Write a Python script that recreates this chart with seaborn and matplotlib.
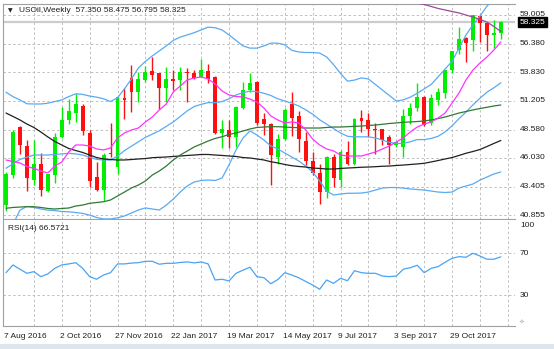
import numpy as np
import pandas as pd
import matplotlib
matplotlib.use("Agg")
import matplotlib.pyplot as plt
import matplotlib.transforms as mtransforms
from matplotlib.patches import Rectangle
import seaborn as sns

# ---------------- weekly USOil candles ----------------
first_week = "2016-08-07"

opens = [41.80, 44.50, 48.80, 47.10, 44.00, 45.45, 43.00, 44.50, 47.90, 49.50,
         50.10, 50.75, 48.30, 44.30, 43.10, 46.50, 45.25, 51.50, 53.25, 52.00,
         53.10, 53.90, 53.70, 52.35, 53.20, 53.10, 53.80, 53.70, 53.40, 53.90,
         53.40, 48.30, 48.55, 47.95, 50.60, 52.20, 52.95, 49.60, 49.10, 46.15,
         47.75, 50.90, 49.85, 47.55, 45.75, 44.65, 42.95, 46.15, 44.00, 46.60,
         45.50, 49.70, 49.50, 48.70, 48.65, 47.90, 47.20, 47.05, 49.80, 50.60,
         51.60, 49.20, 51.30, 51.90, 54.00, 55.85, 56.90, 56.75, 58.90, 58.25,
         57.20, 57.35]
highs = [44.80, 48.60, 48.90, 47.70, 47.70, 46.45, 44.60, 48.30, 50.70, 51.40,
         51.90, 50.90, 48.60, 45.70, 46.45, 49.20, 51.65, 52.35, 54.50, 53.85,
         54.40, 55.20, 53.75, 54.30, 54.00, 54.30, 54.20, 54.00, 55.00, 54.60,
         53.50, 49.50, 49.50, 50.75, 52.95, 53.70, 53.00, 50.10, 49.20, 48.20,
         50.60, 52.00, 50.30, 48.40, 46.60, 45.45, 46.20, 46.40, 46.75, 47.55,
         49.70, 50.40, 50.15, 49.20, 48.70, 48.10, 47.55, 50.45, 51.05, 52.80,
         51.65, 51.80, 52.35, 54.05, 55.75, 57.95, 57.05, 59.05, 59.00, 58.30,
         58.55, 58.475]
lows = [41.20, 44.20, 46.40, 43.00, 43.60, 42.60, 42.90, 43.80, 47.80, 49.10,
        49.30, 48.10, 43.40, 43.00, 42.10, 46.10, 44.60, 49.60, 50.20, 51.10,
        52.90, 53.10, 50.50, 51.10, 52.20, 52.20, 51.10, 53.20, 53.35, 52.80,
        48.20, 46.95, 46.95, 47.05, 50.50, 52.05, 49.00, 48.10, 43.60, 45.45,
        47.65, 48.00, 46.60, 45.40, 44.50, 41.85, 42.40, 43.40, 43.40, 45.40,
        45.40, 48.35, 47.95, 46.35, 47.20, 45.45, 47.05, 46.15, 49.10, 50.30,
        48.95, 49.00, 50.85, 51.45, 53.70, 55.45, 54.75, 55.70, 56.60, 55.75,
        56.05, 56.795]
closes = [44.60, 48.40, 47.20, 44.20, 45.50, 43.10, 44.55, 47.95, 49.50, 50.30,
          50.90, 48.50, 43.90, 43.10, 46.30, 46.40, 51.60, 51.30, 52.00, 53.20,
          53.80, 53.60, 52.35, 53.20, 53.00, 53.80, 53.70, 53.30, 54.00, 53.20,
          48.30, 48.65, 47.95, 50.70, 52.20, 52.85, 49.20, 49.10, 46.30, 47.75,
          50.40, 49.70, 47.75, 45.75, 44.65, 42.95, 46.15, 44.25, 46.60, 45.45,
          49.60, 49.40, 48.70, 48.55, 47.65, 47.20, 47.50, 49.80, 50.55, 51.60,
          49.00, 51.45, 52.00, 54.00, 55.70, 56.80, 56.50, 59.00, 58.25, 57.20,
          57.40, 58.325]

# ---------------- overlays ----------------
ma_fast = [45.85, 45.71, 45.58, 45.26, 45.08, 44.85, 44.67, 45.30, 45.67, 46.57,
           47.21, 47.21, 47.12, 46.85, 46.76, 46.94, 47.85, 48.30, 48.57, 48.75,
           49.30, 49.75, 50.39, 50.93, 52.02, 52.56, 53.11, 53.29, 53.38, 53.20,
           52.75, 52.11, 51.75, 51.61, 51.57, 51.38, 51.11, 50.57, 49.84, 49.48,
           49.21, 49.30, 49.21, 48.57, 47.75, 47.21, 46.85, 46.67, 46.30, 46.21,
           46.21, 46.21, 46.39, 46.57, 46.85, 47.12, 47.48, 47.85, 48.39, 48.84,
           49.11, 49.30, 49.66, 50.11, 51.02, 51.93, 53.11, 54.01, 54.65, 55.19,
           55.83, 56.56]
bb_mid = [45.10, 45.50, 45.90, 46.10, 46.30, 46.30, 46.30, 46.35, 46.40, 46.45,
          46.40, 46.30, 46.10, 45.90, 45.85, 45.85, 46.20, 46.70, 47.10, 47.50,
          47.90, 48.20, 48.50, 48.90, 49.30, 49.80, 50.30, 50.70, 50.90, 51.05,
          51.05, 51.15, 51.40, 51.75, 51.95, 52.10, 52.05, 51.90, 51.70, 51.40,
          51.20, 51.00, 50.75, 50.40, 50.00, 49.50, 49.10, 48.70, 48.30, 48.00,
          47.95, 47.95, 47.95, 47.85, 47.65, 47.45, 47.35, 47.35, 47.50, 47.70,
          47.70, 47.80, 48.00, 48.40, 48.95, 49.60, 50.20, 50.85, 51.45, 52.00,
          52.40, 52.85]
bb_upper = [52.00, 51.60, 51.30, 50.95, 50.93, 50.93, 51.00, 51.15, 51.30, 51.60,
            51.85, 51.80, 51.65, 51.55, 51.40, 51.15, 51.50, 52.30, 53.20, 54.20,
            54.80, 55.30, 55.75, 56.20, 56.70, 57.00, 57.20, 57.40, 57.65, 57.90,
            57.85, 57.65, 57.20, 56.70, 56.20, 56.00, 56.00, 56.20, 56.45, 56.45,
            56.30, 55.80, 55.65, 55.60, 55.60, 55.55, 55.20, 54.50, 53.70, 53.00,
            53.10, 53.30, 53.20, 52.70, 52.20, 51.70, 51.20, 51.30, 51.55, 51.90,
            52.30, 52.70, 53.40, 54.10, 54.80, 56.00, 57.20, 58.10, 58.90, 59.80,
            60.50, 61.20]
bb_lower = [38.50, 40.00, 41.30, 41.63, 41.54, 41.40, 41.30, 41.26, 41.17, 41.15,
            41.08, 41.00, 40.85, 40.63, 40.50, 40.50, 40.60, 40.77, 41.04, 41.31,
            41.50, 41.40, 41.31, 41.76, 42.30, 42.94, 43.49, 43.85, 43.99, 44.03,
            43.99, 44.21, 45.40, 46.75, 47.84, 48.48, 48.12, 47.66, 47.12, 46.85,
            46.48, 46.12, 45.76, 45.30, 44.76, 43.94, 43.03, 42.67, 42.76, 42.83,
            42.83, 42.85, 42.94, 43.12, 43.30, 43.35, 43.35, 43.30, 43.22, 43.17,
            43.12, 43.03, 42.94, 42.90, 42.94, 43.30, 43.49, 43.67, 44.03, 44.30,
            44.58, 44.76]
ma_mid = [41.47, 41.54, 41.58, 41.61, 41.61, 41.54, 41.45, 41.40, 41.45, 41.49,
          41.67, 41.76, 41.92, 41.99, 42.06, 42.22, 42.58, 42.94, 43.31, 43.58,
          43.94, 44.49, 44.85, 45.30, 45.85, 46.30, 46.66, 47.03, 47.30, 47.57,
          47.80, 47.96, 48.16, 48.30, 48.48, 48.66, 48.80, 48.84, 48.87, 48.87,
          48.84, 48.80, 48.78, 48.75, 48.75, 48.75, 48.80, 48.84, 48.84, 48.87,
          48.90, 48.93, 48.98, 49.02, 49.09, 49.16, 49.21, 49.27, 49.30, 49.34,
          49.39, 49.48, 49.61, 49.75, 49.93, 50.11, 50.25, 50.39, 50.52, 50.63,
          50.75, 50.84]
ma_slow = [50.11, 49.80, 49.48, 49.11, 48.80, 48.39, 47.94, 47.53, 47.21, 46.89,
           46.71, 46.53, 46.30, 46.07, 45.94, 45.89, 45.85, 45.85, 45.89, 45.94,
           45.98, 46.06, 46.09, 46.12, 46.17, 46.21, 46.26, 46.30, 46.35, 46.35,
           46.30, 46.26, 46.21, 46.17, 46.07, 46.03, 45.94, 45.85, 45.69, 45.58,
           45.44, 45.33, 45.26, 45.21, 45.12, 45.08, 45.03, 45.03, 45.08, 45.12,
           45.15, 45.19, 45.21, 45.24, 45.28, 45.30, 45.35, 45.39, 45.44, 45.49,
           45.55, 45.67, 45.80, 45.94, 46.07, 46.26, 46.46, 46.62, 46.80, 47.07,
           47.35, 47.62]
ma_long_tail = [60.30, 60.09, 59.96, 59.78, 59.60, 59.46, 59.32, 59.19, 59.00,
                58.82, 58.60, 58.37, 57.96, 57.51]

rsi14 = [51.4, 58.8, 54.7, 50.8, 52.4, 47.6, 50.2, 55.6, 58.8, 59.8,
         61.0, 55.6, 47.6, 45.1, 49.2, 51.4, 59.8, 59.8, 60.6, 61.0,
         62.3, 62.3, 59.5, 60.4, 60.4, 61.2, 61.7, 60.8, 61.7, 59.8,
         44.4, 45.1, 43.5, 50.8, 53.8, 56.6, 47.6, 46.6, 40.8, 44.8,
         51.4, 49.2, 46.5, 43.0, 39.6, 35.5, 44.4, 41.2, 46.0, 43.7,
         53.3, 51.4, 50.8, 50.8, 48.2, 47.6, 48.2, 54.7, 56.2, 58.5,
         51.4, 55.6, 57.2, 61.4, 65.2, 66.8, 66.2, 70.0, 67.4, 64.3,
         64.3, 66.57]

price_levels = [59.005, 56.380, 53.830, 51.205, 48.580, 46.030, 43.405, 40.855]
rsi_levels = [70, 30]
last_price = 58.325
header = "USOil,Weekly  57.350 58.475 56.795 58.325"
rsi_header = "RSI(14) 66.5721"

# ---------------- frame ----------------
n = len(closes)
weeks = pd.date_range(first_week, periods=n, freq="7D")
df = pd.DataFrame({
    "week": np.arange(n), "open": opens, "high": highs, "low": lows, "close": closes,
    "ma_fast": ma_fast, "bb_mid": bb_mid, "bb_upper": bb_upper, "bb_lower": bb_lower,
    "ma_mid": ma_mid, "ma_slow": ma_slow,
    "ma_long": [np.nan] * (n - len(ma_long_tail)) + ma_long_tail,
    "rsi": rsi14,
})

sns.set_style("white")
plt.rcParams["font.family"] = ["Liberation Sans", "DejaVu Sans"]

W, H = 554, 349
fig = plt.figure(figsize=(W / 100, H / 100), dpi=100)
fig.patch.set_facecolor("white")


def px_box(x0, y0, x1, y1):
    return [x0 / W, 1 - y1 / H, (x1 - x0) / W, (y1 - y0) / H]


ax = fig.add_axes(px_box(3, 4, 515, 219))
ax_rsi = fig.add_axes(px_box(3, 220, 515, 326.3))

xlim = (-0.43, 73.03)
GRID = "#bfbfbf"
DASH = (0, (2.5, 2.5))
BLUE = "#5aaaf2"
UP, DOWN = "#00ee00", "#ff1010"

for a in (ax, ax_rsi):
    a.set_xlim(*xlim)
    a.set_xticks([])
    a.set_yticks([])
    a.set_xlabel("")
    a.set_ylabel("")
    for k in range(4, 73, 4):
        a.axvline(k, color=GRID, lw=0.7, ls=DASH, zorder=0)
    for s in a.spines.values():
        s.set_color("#a0a0a0")
        s.set_linewidth(0.8)
    a.spines["right"].set_visible(False)

ax.set_ylim(40.494, 60.003)
ax_rsi.set_ylim(0, 101.9)
ax_rsi.spines["top"].set_visible(False)

for lv in price_levels:
    ax.axhline(lv, color=GRID, lw=0.7, ls=DASH, zorder=0)
for lv in rsi_levels:
    ax_rsi.axhline(lv, color=GRID, lw=0.7, ls=DASH, zorder=0)

# current price line
ax.axhline(last_price, color="#cccccc", lw=1.6, zorder=1)

# candles
up = df["close"] >= df["open"]
colors = np.where(up, UP, DOWN)
ax.vlines(df["week"], df["low"], df["high"], colors=colors, lw=1.0, zorder=2)
body_lo = np.minimum(df["open"], df["close"])
body_h = np.maximum((df["close"] - df["open"]).abs(), 0.09)
ax.bar(df["week"], body_h, bottom=body_lo, width=0.56, color=colors,
       linewidth=0, zorder=2.5)

# overlays
line_kw = dict(ax=ax, lw=0.9, legend=False, errorbar=None, zorder=3)
sns.lineplot(data=df, x="week", y="bb_upper", color=BLUE, **line_kw)
sns.lineplot(data=df, x="week", y="bb_mid", color=BLUE, **line_kw)
sns.lineplot(data=df, x="week", y="bb_lower", color=BLUE, **line_kw)
sns.lineplot(data=df, x="week", y="ma_slow", color="#202020", **line_kw)
sns.lineplot(data=df, x="week", y="ma_mid", color="#2f7a34", **line_kw)
sns.lineplot(data=df, x="week", y="ma_fast", color="#ff33ff", **line_kw)
sns.lineplot(data=df.dropna(subset=["ma_long"]), x="week", y="ma_long",
             color="#9a4a9a", **line_kw)

sns.lineplot(data=df, x="week", y="rsi", ax=ax_rsi, color="#4aa3f5", lw=0.9,
             legend=False, errorbar=None)

for a in (ax, ax_rsi):
    a.set_xlabel("")
    a.set_ylabel("")
    a.set_xlim(*xlim)

# texts
FS = 6.0
fig.text(8 / W, 1 - 11 / H, "\u25bc", fontsize=4.3, family="DejaVu Sans",
         va="center", ha="left", color="#202020")
fig.text(19 / W, 1 - 11 / H, header, fontsize=FS, va="center", ha="left",
         color="#202020")
fig.text(8 / W, 1 - 229 / H, rsi_header, fontsize=FS, va="center", ha="left",
         color="#202020")

tr_main = mtransforms.blended_transform_factory(fig.transFigure, ax.transData)
for lv in price_levels:
    ax.text(520 / W, lv, f"{lv:.3f}", transform=tr_main, fontsize=FS,
            va="center", ha="left", color="#202020", clip_on=False)
ax.text(519.5 / W, last_price, f"{last_price:.3f}", transform=tr_main,
        fontsize=FS, va="center", ha="left", color="white", clip_on=False,
        bbox=dict(boxstyle="square,pad=0.18", fc="black", ec="black"))

tr_rsi = mtransforms.blended_transform_factory(fig.transFigure, ax_rsi.transData)
ax_rsi.text(520 / W, 100, "100", transform=tr_rsi, fontsize=FS, va="top",
            ha="left", color="#202020", clip_on=False)
for lv in rsi_levels:
    ax_rsi.text(520 / W, lv, f"{lv}", transform=tr_rsi, fontsize=FS,
                va="center", ha="left", color="#202020", clip_on=False)
fig.text(519 / W, 1 - 322 / H, "\u2727", fontsize=5, family="DejaVu Sans",
         va="center", ha="left", color="#b8b8b8")

tr_date = mtransforms.blended_transform_factory(ax_rsi.transData, fig.transFigure)
for k in range(0, n, 8):
    d = weeks[k]
    ax_rsi.text(k - 0.3, 1 - 337 / H, f"{d.day} {d.strftime('%b %Y')}",
                transform=tr_date, fontsize=FS, va="center", ha="left",
                color="#202020", clip_on=False)

# window frame strip at the bottom
fig.patches.append(Rectangle((0, 0), 1, 5 / H, transform=fig.transFigure,
                             fc="#dde5ef", ec="none"))

fig.savefig("out.png", dpi=100)
